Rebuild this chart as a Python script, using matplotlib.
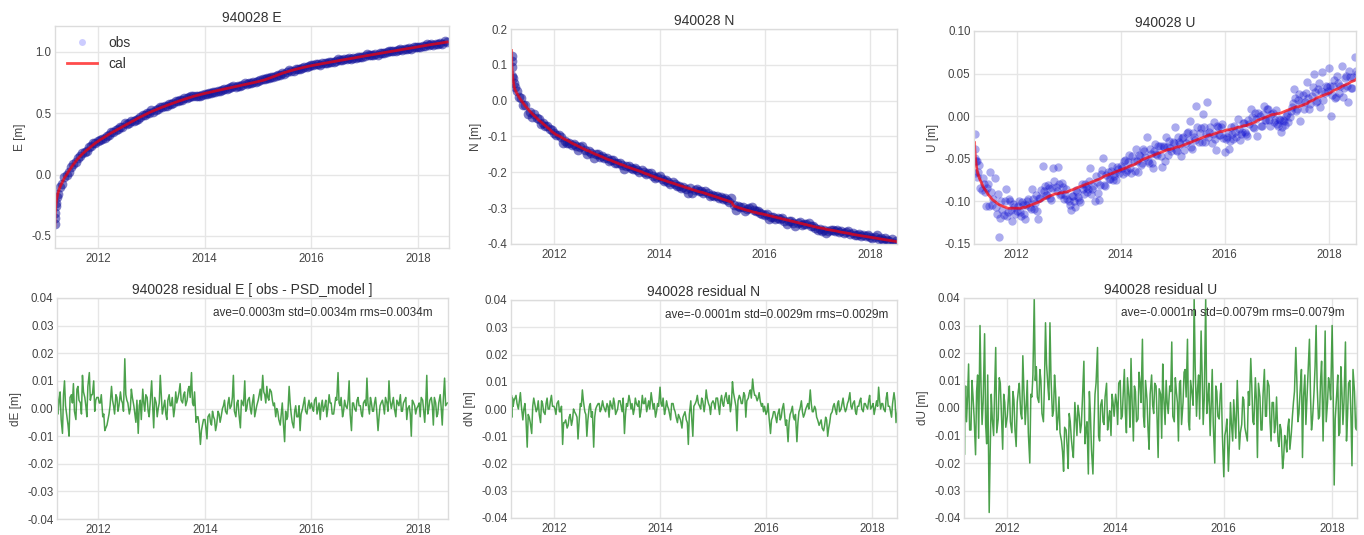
import numpy as np
import pandas as pd
import matplotlib
matplotlib.use('Agg')
import matplotlib.pyplot as plt
import matplotlib.dates as mdates
import matplotlib.ticker as mticker
from datetime import datetime

station = '940028'

# ---------------- sample dates ----------------
early_dates = ['2011-03-12', '2011-03-13', '2011-03-15', '2011-03-18', '2011-03-22', '2011-03-26']
regular_dates = [d.strftime('%Y-%m-%d') for d in pd.date_range('2011-04-01', '2018-07-01', freq='SMS')]
last_dates = ['2018-07-20']
dates = pd.to_datetime(early_dates + regular_dates + last_dates)
# in-between sample dates (8th and 22nd of each month)
dates2 = pd.to_datetime(regular_dates) + pd.Timedelta(days=7)

# ---------------- model (cal) values [m] ----------------
cal_E = [
    -0.420, -0.360, -0.310, -0.260, -0.220, -0.190,
    -0.155, -0.105, -0.065, -0.030, 0.000, 0.028,
    0.055, 0.080, 0.105, 0.127, 0.148, 0.166,
    0.183, 0.198, 0.213, 0.228, 0.243, 0.257,
    0.270, 0.282, 0.294, 0.305, 0.316, 0.327,
    0.338, 0.348, 0.358, 0.368, 0.378, 0.388,
    0.398, 0.408, 0.418, 0.428, 0.438, 0.448,
    0.458, 0.467, 0.476, 0.485, 0.494, 0.503,
    0.512, 0.519, 0.527, 0.534, 0.541, 0.548,
    0.555, 0.562, 0.569, 0.576, 0.583, 0.589,
    0.595, 0.601, 0.607, 0.613, 0.619, 0.625,
    0.630, 0.636, 0.641, 0.646, 0.651, 0.656,
    0.660, 0.664, 0.668, 0.672, 0.676, 0.680,
    0.684, 0.688, 0.692, 0.696, 0.700, 0.704,
    0.708, 0.712, 0.716, 0.720, 0.724, 0.728,
    0.732, 0.736, 0.740, 0.744, 0.748, 0.752,
    0.756, 0.760, 0.765, 0.770, 0.776, 0.782,
    0.789, 0.796, 0.803, 0.810, 0.817, 0.824,
    0.830, 0.836, 0.841, 0.846, 0.851, 0.856,
    0.861, 0.866, 0.870, 0.874, 0.878, 0.882,
    0.886, 0.889, 0.893, 0.896, 0.899, 0.903,
    0.906, 0.909, 0.913, 0.916, 0.919, 0.922,
    0.926, 0.929, 0.932, 0.935, 0.939, 0.942,
    0.945, 0.948, 0.952, 0.955, 0.958, 0.961,
    0.965, 0.968, 0.971, 0.974, 0.977, 0.980,
    0.984, 0.987, 0.990, 0.993, 0.996, 0.999,
    1.002, 1.005, 1.008, 1.011, 1.015, 1.018,
    1.021, 1.024, 1.027, 1.030, 1.033, 1.036,
    1.040, 1.043, 1.046, 1.049, 1.052, 1.055,
    1.058, 1.061, 1.064, 1.066, 1.069, 1.072,
    1.075, 1.079,
]

cal_N = [
    0.140, 0.110, 0.090, 0.072, 0.058, 0.047,
    0.035, 0.022, 0.011, 0.002, -0.007, -0.015,
    -0.022, -0.029, -0.036, -0.042, -0.048, -0.054,
    -0.059, -0.064, -0.070, -0.075, -0.080, -0.086,
    -0.091, -0.095, -0.098, -0.101, -0.105, -0.108,
    -0.111, -0.114, -0.118, -0.121, -0.124, -0.127,
    -0.130, -0.133, -0.136, -0.139, -0.141, -0.144,
    -0.147, -0.150, -0.152, -0.155, -0.157, -0.160,
    -0.163, -0.165, -0.167, -0.170, -0.172, -0.174,
    -0.177, -0.179, -0.181, -0.184, -0.186, -0.188,
    -0.190, -0.192, -0.195, -0.197, -0.199, -0.202,
    -0.204, -0.206, -0.209, -0.211, -0.213, -0.216,
    -0.218, -0.220, -0.222, -0.224, -0.226, -0.228,
    -0.230, -0.232, -0.234, -0.236, -0.238, -0.240,
    -0.242, -0.244, -0.246, -0.248, -0.250, -0.252,
    -0.254, -0.255, -0.257, -0.259, -0.261, -0.263,
    -0.265, -0.267, -0.269, -0.271, -0.273, -0.275,
    -0.277, -0.279, -0.281, -0.283, -0.294, -0.296,
    -0.298, -0.300, -0.302, -0.304, -0.306, -0.307,
    -0.309, -0.311, -0.312, -0.314, -0.315, -0.316,
    -0.318, -0.319, -0.321, -0.322, -0.324, -0.325,
    -0.327, -0.328, -0.330, -0.331, -0.333, -0.334,
    -0.336, -0.337, -0.339, -0.340, -0.342, -0.343,
    -0.345, -0.346, -0.348, -0.349, -0.351, -0.352,
    -0.354, -0.355, -0.356, -0.357, -0.359, -0.360,
    -0.361, -0.362, -0.363, -0.364, -0.366, -0.367,
    -0.368, -0.369, -0.370, -0.371, -0.373, -0.374,
    -0.375, -0.376, -0.377, -0.378, -0.379, -0.380,
    -0.381, -0.382, -0.383, -0.384, -0.385, -0.386,
    -0.387, -0.388, -0.389, -0.390, -0.391, -0.392,
    -0.393, -0.395,
]

cal_U = [
    -0.031, -0.037, -0.043, -0.050, -0.055, -0.060,
    -0.066, -0.073, -0.079, -0.084, -0.088, -0.092,
    -0.095, -0.098, -0.100, -0.102, -0.104, -0.105,
    -0.106, -0.107, -0.108, -0.108, -0.108, -0.108,
    -0.108, -0.108, -0.108, -0.107, -0.107, -0.106,
    -0.105, -0.104, -0.103, -0.102, -0.101, -0.100,
    -0.098, -0.097, -0.095, -0.094, -0.093, -0.092,
    -0.091, -0.091, -0.090, -0.090, -0.089, -0.089,
    -0.088, -0.087, -0.086, -0.085, -0.084, -0.083,
    -0.082, -0.081, -0.080, -0.079, -0.078, -0.077,
    -0.076, -0.075, -0.074, -0.073, -0.071, -0.070,
    -0.069, -0.068, -0.067, -0.066, -0.065, -0.064,
    -0.063, -0.062, -0.061, -0.060, -0.059, -0.058,
    -0.057, -0.056, -0.054, -0.053, -0.051, -0.050,
    -0.049, -0.048, -0.047, -0.046, -0.045, -0.044,
    -0.043, -0.042, -0.041, -0.040, -0.039, -0.039,
    -0.038, -0.037, -0.036, -0.036, -0.035, -0.034,
    -0.033, -0.032, -0.031, -0.030, -0.029, -0.028,
    -0.027, -0.026, -0.025, -0.024, -0.023, -0.022,
    -0.022, -0.021, -0.020, -0.019, -0.018, -0.018,
    -0.017, -0.016, -0.016, -0.015, -0.015, -0.014,
    -0.013, -0.013, -0.012, -0.011, -0.011, -0.010,
    -0.009, -0.008, -0.007, -0.005, -0.004, -0.003,
    -0.002, -0.001, 0.000, 0.001, 0.002, 0.002,
    0.003, 0.003, 0.004, 0.005, 0.006, 0.007,
    0.008, 0.009, 0.010, 0.011, 0.011, 0.012,
    0.013, 0.014, 0.015, 0.017, 0.018, 0.019,
    0.021, 0.022, 0.023, 0.024, 0.025, 0.026,
    0.027, 0.028, 0.030, 0.031, 0.032, 0.033,
    0.035, 0.036, 0.037, 0.038, 0.040, 0.041,
    0.042, 0.045,
]

# U model read at the in-between dates [m]
cal_U2 = [
    -0.070, -0.076, -0.082, -0.086, -0.090, -0.094,
    -0.097, -0.099, -0.101, -0.103, -0.105, -0.106,
    -0.107, -0.108, -0.108, -0.108, -0.108, -0.108,
    -0.108, -0.108, -0.107, -0.107, -0.106, -0.106,
    -0.105, -0.104, -0.103, -0.102, -0.101, -0.099,
    -0.098, -0.096, -0.095, -0.094, -0.093, -0.092,
    -0.091, -0.090, -0.090, -0.089, -0.089, -0.088,
    -0.088, -0.087, -0.086, -0.085, -0.084, -0.083,
    -0.082, -0.081, -0.080, -0.079, -0.078, -0.077,
    -0.076, -0.075, -0.074, -0.072, -0.071, -0.070,
    -0.069, -0.068, -0.067, -0.066, -0.065, -0.064,
    -0.063, -0.062, -0.061, -0.060, -0.059, -0.058,
    -0.057, -0.055, -0.054, -0.052, -0.051, -0.050,
    -0.049, -0.048, -0.047, -0.046, -0.045, -0.044,
    -0.043, -0.042, -0.041, -0.040, -0.039, -0.039,
    -0.038, -0.037, -0.036, -0.035, -0.035, -0.034,
    -0.033, -0.032, -0.031, -0.030, -0.029, -0.028,
    -0.027, -0.026, -0.025, -0.024, -0.023, -0.022,
    -0.022, -0.021, -0.020, -0.019, -0.018, -0.017,
    -0.017, -0.016, -0.016, -0.015, -0.015, -0.014,
    -0.013, -0.012, -0.012, -0.011, -0.011, -0.010,
    -0.009, -0.008, -0.006, -0.005, -0.004, -0.003,
    -0.002, -0.001, 0.000, 0.001, 0.002, 0.003,
    0.003, 0.004, 0.005, 0.006, 0.007, 0.008,
    0.009, 0.010, 0.011, 0.011, 0.012, 0.013,
    0.014, 0.015, 0.016, 0.018, 0.019, 0.020,
    0.021, 0.022, 0.023, 0.024, 0.025, 0.026,
    0.028, 0.029, 0.030, 0.031, 0.033, 0.034,
    0.035, 0.036, 0.038, 0.039, 0.040, 0.041,
    0.043,
]

# ---------------- residuals obs - model [mm] ----------------
res_E_mm = [
    20, 5, -6, 3, -10, 8,
    -2, 6, -9, 10, -3, -10,
    5, 9, -4, 8, 2, 12,
    4, -3, 13, 5, 10, 3,
    4, 2, -3, -8, -6, -2,
    8, 1, 5, -1, 6, 2,
    18, 3, -2, 7, 1, -5,
    -9, 3, 7, -1, 4, -3,
    10, -7, 2, 0, 12, -2,
    3, -4, 5, 1, -3, 6,
    4, 9, 2, 6, 3, 8,
    13, 1, -5, -3, -13, -6,
    -4, -11, -2, -6, -3, -8,
    -1, -5, 0, 3, -2, 4,
    1, 12, -3, 3, -7, 2,
    10, 0, 4, -2, 5, -1,
    3, 7, 12, 5, 8, 3,
    6, 1, -3, -1, -6, 2,
    -12, -4, 8, -2, -7, 1,
    -3, -8, 0, 4, -2, 3,
    2, -1, 4, 0, -4, 3,
    1, -3, 5, 2, -2, 4,
    13, 1, -3, 3, 0, 10,
    -8, 2, -1, 4, 1, -3,
    3, 11, -2, 2, -1, 4,
    -8, 1, 3, -2, 2, 10,
    0, 4, -3, 2, 5, -1,
    3, -4, 1, -10, 2, -2,
    1, -3, 3, -5, 12, 0,
    4, -6, 2, -2, 5, -6,
    11, 2,
]
res_E2_mm = [
    3, -4, 5, 1, -6, 4,
    2, -1, 7, 3, -2, 6,
    1, 8, 3, 5, -1, 4,
    2, 5, -2, -7, -4, 1,
    3, -2, 4, 1, 3, -1,
    5, 2, 0, 4, -2, 3,
    1, -4, 2, 5, -1, 2,
    1, 4, -3, 2, 5, 0,
    -2, 3, 1, 4, 0, 2,
    6, 3, 5, 1, 7, 4,
    2, 6, -3, -6, -8, -4,
    -7, -3, -5, -1, -4, -6,
    -2, -3, 1, -1, 2, 0,
    4, -1, 2, -2, 3, 1,
    -1, 3, 0, 2, -3, 1,
    5, 3, 6, 2, 4, 7,
    3, 2, 0, -4, -2, -5,
    -1, -3, 2, -5, -1, -3,
    1, -2, 2, -1, 1, 0,
    0, 3, -2, 2, 1, -1,
    3, 0, 2, -2, 1, 3,
    2, 4, -1, 1, 3, -2,
    2, 0, 3, 1, -2, 2,
    1, 2, 4, -1, 2, 0,
    -3, 2, 1, 4, -1, 3,
    2, 0, 3, 1, -1, 2,
    4, 0, -2, 3, 1, 0,
    2, 4, -1, 2, -2, 3,
    1, 4, -3, 2, 0, 3,
    1,
]

res_N_mm = [
    -15, 2, 5, -3, 4, 1,
    3, 5, 0, 6, -4, 2,
    -14, -3, -9, 4, -1, 3,
    -5, 2, -2, 4, 0, 5,
    1, -2, 3, -1, -13, -5,
    -7, -3, -6, 0, -2, -11,
    2, 7, -1, -10, 1, -3,
    -14, 0, 2, -1, 3, 0,
    2, -3, 1, 4, -2, 0,
    3, -1, -9, 2, 5, 0,
    -2, 4, 1, -3, 5, 2,
    -1, 3, 6, 0, -3, 2,
    8, 1, -2, 3, 0, -4,
    2, -1, -5, -3, -7, -2,
    -4, -13, 3, -10, 2, 5,
    1, 4, -1, 7, 2, -2,
    3, 0, 4, -2, 5, 1,
    6, 2, -1, 10, 3, -8,
    5, 2, 6, -3, 4, 7,
    11, 5, 3, 6, 1, -1,
    -2, 2, -9, -3, -1, -5,
    0, -3, 2, -6, -12, -2,
    1, -4, -12, -1, 3, -3,
    0, 2, 7, -1, 1, -3,
    -6, -4, -8, -3, -10, -5,
    -1, 2, -2, 3, 0, 4,
    -1, 2, 6, 0, 3, -2,
    1, 4, -1, 2, 0, 5,
    1, -2, 3, 8, 0, 2,
    -1, 6, 1, -3, 6, -5,
    2, -4,
]
res_N2_mm = [
    4, 2, 3, 1, 0, -3,
    -2, -5, 1, 2, 0, -2,
    3, -1, 2, 0, 3, 1,
    0, 2, -1, 1, -5, -4,
    -6, -2, -4, -1, -3, -5,
    1, 3, -2, -4, 2, -1,
    -3, 1, 2, 0, 1, -1,
    1, 3, 0, 2, -1, 3,
    1, 4, -2, 1, 3, 2,
    0, 2, 3, -1, 2, 4,
    1, 0, 3, 2, -1, 1,
    2, 4, 0, 1, -2, 2,
    0, -3, -2, -4, -3, -1,
    -5, -2, -4, 1, 3, 2,
    0, 3, 2, 4, 1, 2,
    2, 4, 1, 3, 2, 4,
    3, 5, 2, 6, 1, 3,
    4, 2, 5, 3, 6, 4,
    7, 5, 4, 3, 2, 1,
    -1, -3, -4, -1, -3, -2,
    -4, 0, -2, -4, -5, -1,
    -3, -2, -5, 0, -1, -2,
    1, 0, 2, -1, 0, -4,
    -5, -7, -6, -4, -7, -2,
    1, 0, 2, -1, 2, 1,
    0, 3, 1, 2, -1, 1,
    3, 0, 2, 1, 3, 0,
    2, 0, 1, 3, 2, 0,
    4, 1, -1, 2, 3, -2,
    0,
]

res_U_mm = [
    10, -12, 5, -17, 3, 8,
    -5, 16, -8, 4, -17, 12,
    30, -6, 27, -13, -38, 5,
    -10, 22, -4, 9, -15, 2,
    -3, 8, -9, 3, -14, 6,
    -2, 19, -6, 10, -20, 4,
    40, 15, 2, 10, -5, 31,
    8, 31, -3, 12, -8, 4,
    -12, -23, -8, -22, -5, -15,
    2, -10, -3, -6, 17, -8,
    -24, -2, -24, 5, 22, -12,
    3, -6, 9, -4, -10, 2,
    5, -6, 10, -3, 14, -9,
    4, 18, -12, 6, -4, 9,
    25, -7, 3, -15, 12, -2,
    8, -18, 5, 16, -6, 2,
    8, 24, -5, 6, -12, 10,
    2, 14, 25, -8, 5, 40,
    -3, 12, 28, -6, 40, 3,
    -10, 14, -20, 6, -4, 9,
    -25, -8, -23, 2, -12, -4,
    10, -15, -6, 3, -10, 6,
    18, -5, 11, -18, 4, -8,
    14, -3, 8, -12, 2, -6,
    -12, -6, -22, -10, -16, -4,
    -9, 2, 22, -5, 8, -18,
    12, 3, 25, -8, 6, 30,
    -4, 10, -12, 28, 2, 8,
    30, -28, 5, -10, 15, -6,
    24, -3, 10, -21, 6, -8,
    28, 4,
]
res_U2_mm = [
    4, -8, 10, -3, 6, -11,
    8, 2, -6, 12, -15, -4,
    7, -9, 11, -2, 5, -7,
    3, -5, 6, -8, 2, 9,
    -4, 7, 1, -9, 5, 12,
    10, 4, 14, -2, 9, 16,
    3, 11, -1, 6, -4, -9,
    -16, -7, -14, -2, -11, -18,
    -4, 1, -9, 3, -13, -5,
    6, -15, -7, 9, -10, 1,
    -5, 4, -8, -1, 5, -3,
    2, 9, -4, 6, -2, 11,
    -7, 3, 8, -5, 13, 2,
    -3, 10, -8, 5, 1, 9,
    -4, 7, -11, 4, 10, -2,
    6, -3, 11, 2, 9, -6,
    13, 4, -5, 10, 1, 15,
    7, -4, 12, 3, -2, 9,
    1, -6, 8, -3, 5, -9,
    -10, -4, -13, -6, 3, -11,
    -2, -9, 4, -7, -12, 1,
    8, -6, 3, 9, -8, 5,
    -3, 10, -5, 2, -9, 4,
    -14, -8, -18, -12, -7, -15,
    -3, 6, 10, -2, 14, 4,
    -6, 12, 5, -4, 15, 8,
    -3, 17, 6, -5, 11, 3,
    8, -4, 12, -9, 6, 2,
    -12, 9, -3, 14, -7, 5,
    10,
]

stats_text = {
    'E': 'ave=0.0003m std=0.0034m rms=0.0034m',
    'N': 'ave=-0.0001m std=0.0029m rms=0.0029m',
    'U': 'ave=-0.0001m std=0.0079m rms=0.0079m',
}
components = ['E', 'N', 'U']

n = len(dates)
n2 = len(dates2)
cal = {'E': np.array(cal_E[:n]), 'N': np.array(cal_N[:n]), 'U': np.array(cal_U[:n])}
res = {'E': np.array(res_E_mm[:n]) / 1000.0,
       'N': np.array(res_N_mm[:n]) / 1000.0,
       'U': np.array(res_U_mm[:n]) / 1000.0}
res2 = {'E': np.array(res_E2_mm[:n2]) / 1000.0,
        'N': np.array(res_N2_mm[:n2]) / 1000.0,
        'U': np.array(res_U2_mm[:n2]) / 1000.0}
obs = {c: cal[c] + res[c] for c in components}
obs_U2 = np.array(cal_U2[:n2]) + res2['U']

# merged residual series (sorted in time)
all_dates = np.concatenate([dates.values, dates2.values])
order = np.argsort(all_dates)
all_dates = all_dates[order]
res_all = {c: np.concatenate([res[c], res2[c]])[order] for c in components}

# ---------------- style ----------------
plt.rcParams.update({
    'font.family': ['Liberation Sans', 'DejaVu Sans'],
    'axes.unicode_minus': True,
    'axes.edgecolor': '#dcdcdc',
    'axes.linewidth': 1.0,
    'axes.grid': True,
    'grid.color': '#e6e6e6',
    'grid.linewidth': 1.0,
    'xtick.major.size': 0,
    'ytick.major.size': 0,
    'xtick.major.pad': 3.5,
    'ytick.major.pad': 2.5,
    'xtick.color': '#444444',
    'ytick.color': '#444444',
    'xtick.labelsize': 8.3,
    'ytick.labelsize': 8.3,
    'axes.labelcolor': '#444444',
    'axes.labelsize': 8.5,
    'text.color': '#333333',
})

W, H = 1364, 535
fig = plt.figure(figsize=(W / 100, H / 100), dpi=100)


def rect(x0, y0, x1, y1):
    return [x0 / W, 1 - y1 / H, (x1 - x0) / W, (y1 - y0) / H]


def dyear(y):
    yr = int(y)
    start = datetime(yr, 1, 1)
    end = datetime(yr + 1, 1, 1)
    return start + (end - start) * (y - yr)


top_rects = {'E': rect(55, 26, 449, 248), 'N': rect(511, 29, 897, 244), 'U': rect(974, 31, 1356, 244)}
bot_rects = {'E': rect(57, 298, 448, 519), 'N': rect(511, 300, 897, 518), 'U': rect(964, 298, 1357, 518)}
top_xlim = {'E': (2011.194, 2018.58), 'N': (2011.18, 2018.51), 'U': (2011.18, 2018.52)}
bot_xlim = {'E': (2011.226, 2018.56), 'N': (2011.19, 2018.47), 'U': (2011.20, 2018.46)}
top_ylim = {'E': (-0.598, 1.209), 'N': (-0.4, 0.2), 'U': (-0.15, 0.10)}
top_yticks = {'E': [-0.5, 0.0, 0.5, 1.0],
              'N': [-0.4, -0.3, -0.2, -0.1, 0.0, 0.1, 0.2],
              'U': [-0.15, -0.10, -0.05, 0.00, 0.05, 0.10]}
top_yfmt = {'E': '%.1f', 'N': '%.1f', 'U': '%.2f'}
obs_style = {'E': dict(color='#14149a', alpha=0.55, ms=7),
             'N': dict(color='#14149a', alpha=0.55, ms=7),
             'U': dict(color='#1010d0', alpha=0.35, ms=6)}


def style_dates(ax, xl):
    ax.set_xlim(dyear(xl[0]), dyear(xl[1]))
    ax.xaxis.set_major_locator(mdates.YearLocator(2))
    ax.xaxis.set_major_formatter(mdates.DateFormatter('%Y'))
    for s in ax.spines.values():
        s.set_color('#dcdcdc')
    ax.set_axisbelow(True)


for c in components:
    ax = fig.add_axes(top_rects[c])
    st = obs_style[c]
    ax.plot(dates, obs[c], 'o', color=st['color'], alpha=st['alpha'], ms=st['ms'], mew=0, label='obs')
    if c == 'U':
        ax.plot(dates2, obs_U2, 'o', color=st['color'], alpha=st['alpha'], ms=st['ms'], mew=0)
    ax.plot(dates, cal[c], '-', color='red', alpha=0.7, lw=2, label='cal')
    style_dates(ax, top_xlim[c])
    ax.set_ylim(*top_ylim[c])
    ax.set_yticks(top_yticks[c])
    ax.yaxis.set_major_formatter(mticker.FormatStrFormatter(top_yfmt[c]))
    ax.set_ylabel(f'{c} [m]', labelpad=4)
    ax.set_title(f'{station} {c}', fontsize=10, pad=3)
    if c == 'E':
        leg = ax.legend(loc='upper left', frameon=False, fontsize=10, numpoints=1,
                        handlelength=2.2, borderaxespad=0.3, bbox_to_anchor=(0.005, 1.0))
        h = leg.legend_handles[0]
        h.set_color('blue')
        h.set_alpha(0.2)
        h.set_markersize(5)

    bx = fig.add_axes(bot_rects[c])
    bx.plot(all_dates, res_all[c], '-', color='#007a00', alpha=0.7, lw=1.1)
    style_dates(bx, bot_xlim[c])
    bx.set_ylim(-0.04, 0.04)
    bx.set_yticks(np.arange(-0.04, 0.0401, 0.01))
    bx.yaxis.set_major_formatter(mticker.FormatStrFormatter('%.2f'))
    bx.set_ylabel(f'd{c} [m]', labelpad=4)
    ttl = f'{station} residual {c}' + (' [ obs - PSD_model ]' if c == 'E' else '')
    bx.set_title(ttl, fontsize=10, pad=3)
    bx.text(0.40, 0.93, stats_text[c], transform=bx.transAxes, fontsize=8.5,
            ha='left', va='center', color='#333333')

fig.savefig('out.png', dpi=100)
